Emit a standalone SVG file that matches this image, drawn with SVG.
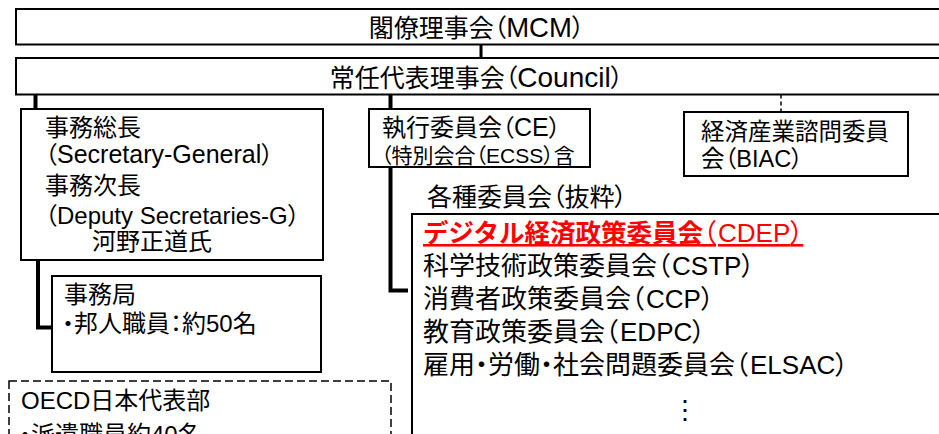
<svg xmlns="http://www.w3.org/2000/svg" width="939" height="434" viewBox="0 0 939 434">
<style>
.box{fill:#fff;stroke:#000;stroke-width:2}
.dbox{fill:none;stroke:#000;stroke-width:1.5;stroke-dasharray:8 4}
.t{font-family:"Liberation Sans","Noto Sans CJK JP",sans-serif;font-feature-settings:"palt";fill:#000}
.k{font-feature-settings:normal}
.c{stroke:#000;stroke-width:4;fill:none}
.cthin{stroke:#000;stroke-width:3;fill:none}
.cdash{stroke:#000;stroke-width:1.5;stroke-dasharray:4 3;fill:none}
</style>
<rect width="939" height="434" fill="#fff"/>
<g id="connectors">
  <line class="cthin" x1="481" y1="44.5" x2="481" y2="58"/>
  <line class="c" x1="35.5" y1="94.5" x2="35.5" y2="109"/>
  <line class="c" x1="390.5" y1="94.5" x2="390.5" y2="109"/>
  <path class="c" d="M390.5,167 V290.5 H408"/>
  <path class="c" d="M38,260 V327.5 H52"/>
  <line class="cdash" x1="781" y1="94.5" x2="781" y2="112"/>
</g>
<g id="mcm">
  <rect class="box" x="16" y="9" width="1000" height="35.5"/>
  <text class="t" x="476.5" y="37" text-anchor="middle" font-size="25">閣僚理事会（<tspan font-size="27.5">MCM</tspan>）</text>
</g>
<g id="council">
  <rect class="box" x="16" y="58" width="1000" height="36.5"/>
  <text class="t" x="476.5" y="87" text-anchor="middle" font-size="25">常任代表理事会（<tspan font-size="28">Council</tspan>）</text>
</g>
<g id="secretary-general">
  <rect class="box" x="21" y="109" width="302" height="151"/>
  <text class="t" font-size="24">
    <tspan x="45" y="136">事務総長</tspan>
    <tspan x="45" y="163">（<tspan font-size="25">Secretary-General</tspan>）</tspan>
    <tspan x="45" y="194">事務次長</tspan>
    <tspan x="45" y="224">（Deputy Secretaries-G）</tspan>
    <tspan x="92" y="250">河野正道氏</tspan>
  </text>
</g>
<g id="secretariat">
  <rect class="box" x="52" y="276" width="269" height="96"/>
  <text class="t" font-size="24">
    <tspan x="64" y="303">事務局</tspan>
    <tspan x="62" y="332">・邦人職員：約50名</tspan>
  </text>
</g>
<g id="oecd-japan">
  <rect class="dbox" x="9" y="381" width="382" height="120"/>
  <text class="t" font-size="24">
    <tspan x="21" y="409">OECD日本代表部</tspan>
    <tspan x="19" y="443">・派遣職員約40名</tspan>
  </text>
</g>
<g id="ce">
  <rect class="box" x="369" y="109" width="221" height="58"/>
  <text class="t" x="382" y="136" font-size="24">執行委員会（<tspan font-size="25">CE</tspan>）</text>
  <text class="t" x="381" y="163" font-size="21">（特別会合（ECSS）含</text>
</g>
<g id="biac">
  <rect class="box" x="684" y="112" width="224" height="64"/>
  <text class="t" font-size="23.5">
    <tspan x="701" y="140">経済産業諮問委員</tspan>
    <tspan x="701" y="167">会（BIAC）</tspan>
  </text>
</g>
<g id="committees">
  <text class="t" x="427" y="206" font-size="25">各種委員会（抜粋）</text>
  <rect class="box" x="412" y="214" width="600" height="300"/>
  <text class="t" x="423" y="242" font-size="26" fill="#FF0000" style="fill:#FF0000" text-decoration="underline"><tspan class="k" font-weight="bold" font-size="25.5">デジタル経済政策委員会</tspan>（<tspan dx="2">CDEP</tspan>）</text>
  <text class="t" font-size="26">
    <tspan x="423" y="275">科学技術政策委員会（<tspan dx="2">CSTP</tspan>）</tspan>
    <tspan x="423" y="308">消費者政策委員会（<tspan dx="2">CCP</tspan>）</tspan>
    <tspan x="423" y="341">教育政策委員会（<tspan dx="2">EDPC</tspan>）</tspan>
    <tspan x="423" y="374">雇用・労働・社会問題委員会（<tspan dx="2">ELSAC</tspan>）</tspan>
  </text>
  <text class="t" x="685" y="419" text-anchor="middle" font-size="26">⋮</text>
</g>
</svg>
